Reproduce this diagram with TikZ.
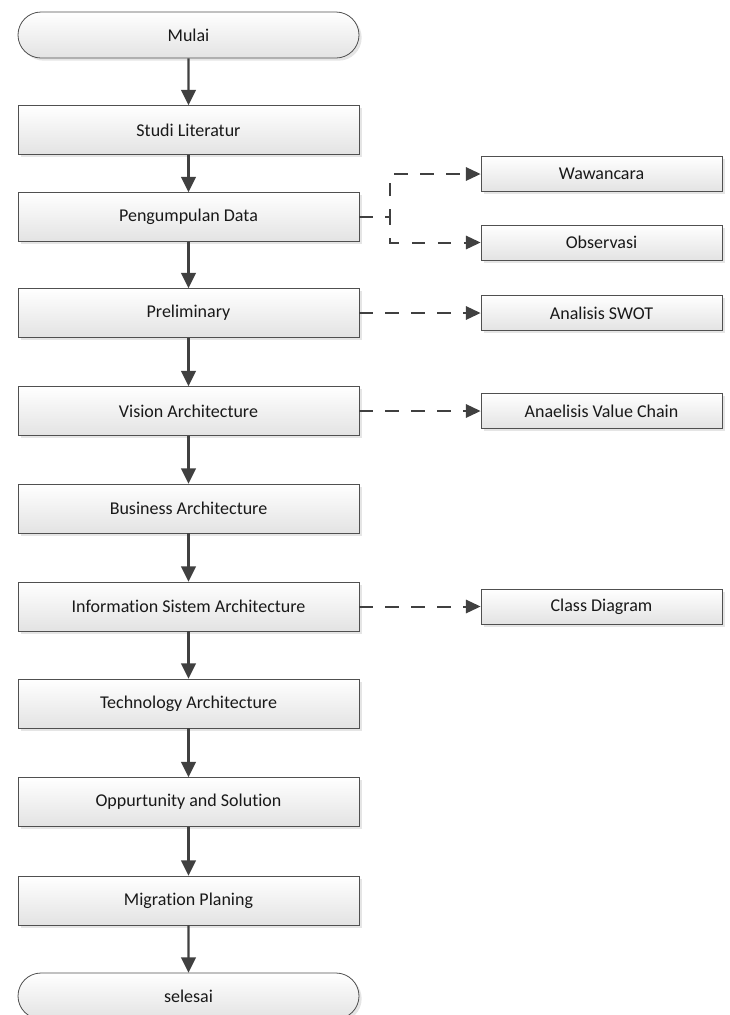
\documentclass[tikz,border=0pt]{standalone}
\usepackage{fontspec}
\setmainfont{Carlito}[Ligatures=NoCommon]
\usetikzlibrary{arrows.meta,shadows,shapes.misc}
\definecolor{ink}{HTML}{404040}
\definecolor{edge}{HTML}{505050}
\begin{document}
\begin{tikzpicture}[x=0.75pt,y=-0.75pt,
  base/.style={draw=edge, line width=0.6pt, top color=white, bottom color=black!11,
    font=\fontsize{13.5}{16}\selectfont, text=black!90, inner sep=0pt,
    drop shadow={shadow xshift=2pt, shadow yshift=-2pt, fill=black!20}},
  stepbox/.style={base, rectangle, minimum width=255.75pt, minimum height=36.75pt},
  sidebox/.style={base, rectangle, minimum width=180.75pt, minimum height=26.25pt},
  terminal/.style={base, rounded rectangle, minimum width=255.75pt, minimum height=34.5pt},
  flow/.style={draw=ink, line width=1.6pt, -{Triangle[width=11pt,length=11.5pt]}},
  aside/.style={draw=ink, line width=1.5pt, dash pattern=on 10pt off 9.5pt,
    -{Triangle[width=10pt,length=11pt]}}
]
\useasboundingbox (0,0) rectangle (730,1015);
\clip (0,0) rectangle (730,1015);

% main process column
\node[terminal] (mulai)   at (188.5,35)    {Mulai};
\node[stepbox]  (studi)   at (188.5,130)   {Studi Literatur};
\node[stepbox]  (data)    at (188.5,217)   {Pengumpulan Data};
\node[stepbox]  (prelim)  at (188.5,313)   {Preliminary};
\node[stepbox]  (vision)  at (188.5,411)   {Vision Architecture};
\node[stepbox]  (bisnis)  at (188.5,508.5) {Business Architecture};
\node[stepbox]  (infosys) at (188.5,606.5) {Information Sistem Architecture};
\node[stepbox]  (tekno)   at (188.5,703.5) {Technology Architecture};
\node[stepbox]  (opsol)   at (188.5,802)   {Oppurtunity and Solution};
\node[stepbox]  (migrasi) at (188.5,900.5) {Migration Planing};
\node[terminal] (selesai) at (188.5,996)   {selesai};

% supporting activities
\node[sidebox] (waw)   at (601.5,174)   {Wawancara};
\node[sidebox] (obs)   at (601.5,242.5) {Observasi};
\node[sidebox] (swot)  at (601.5,313)   {Analisis SWOT};
\node[sidebox] (chain) at (601.5,411)   {Anaelisis Value Chain};
\node[sidebox] (kelas) at (601.5,606.5) {Class Diagram};

% main flow
\draw[flow] (mulai) -- (studi);
\draw[flow] (studi) -- (data);
\draw[flow] (data) -- (prelim);
\draw[flow] (prelim) -- (vision);
\draw[flow] (vision) -- (bisnis);
\draw[flow] (bisnis) -- (infosys);
\draw[flow] (infosys) -- (tekno);
\draw[flow] (tekno) -- (opsol);
\draw[flow] (opsol) -- (migrasi);
\draw[flow] (migrasi) -- (selesai);

% dashed links to supporting activities
\draw[aside] (data.east) -- ++(31,0) |- (waw.west);
\draw[aside] (data.east) -- ++(31,0) |- (obs.west);
\draw[aside] (prelim) -- (swot);
\draw[aside] (vision) -- (chain);
\draw[aside] (infosys) -- (kelas);
\end{tikzpicture}
\end{document}
